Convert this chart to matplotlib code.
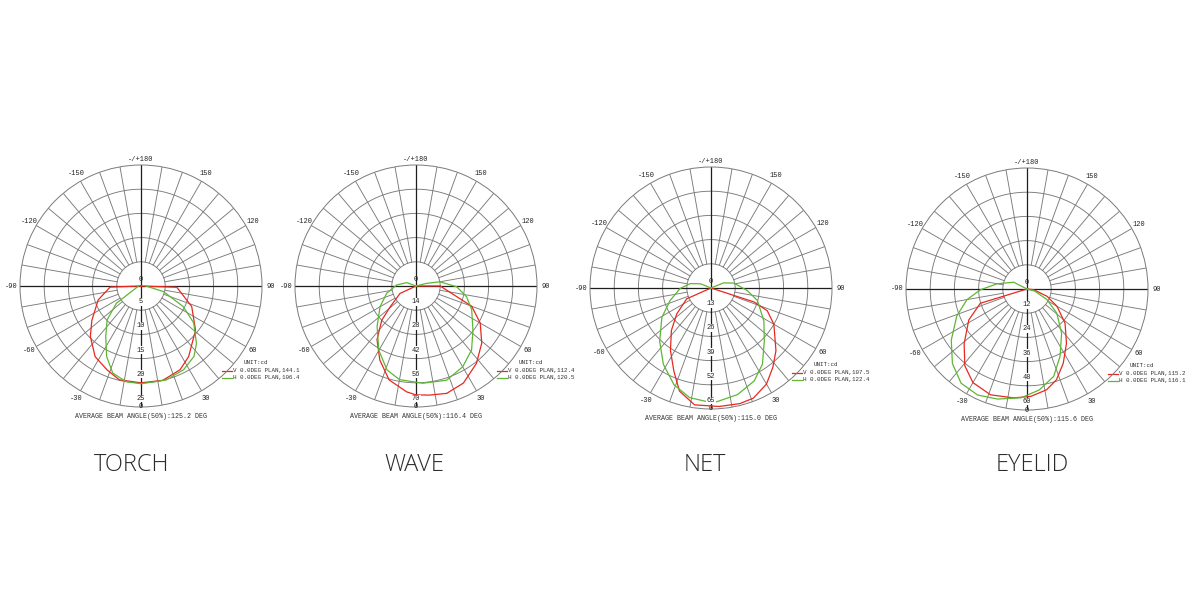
import numpy as np
import matplotlib.pyplot as plt

# ---- values ----
titles = ['TORCH', 'WAVE', 'NET', 'EYELID']
ring_max = [25, 70, 65, 60]          # outer ring value (cd)
v_beam = [144.1, 112.4, 107.5, 115.2]
h_beam = [106.4, 120.5, 122.4, 116.1]
avg_beam = [125.2, 116.4, 115.0, 115.6]

# V 0.0DEG plane (red) and H 0.0DEG plane (green), angle in deg (0 = straight down)
torch_v_ang = [-90, -88, -72, -55, -45, -33, -22, -13, 0, 13, 25, 34, 51, 68, 88, 90]
torch_v_val = [0, 6.4, 9.3, 12.4, 14.8, 17.4, 18.7, 19.9, 20.0, 20.0, 19.1, 17.6, 14.5, 11.3, 7.4, 0]
torch_h_ang = [-90, -55, -45, -35, -26, -18, -9, 0, 15, 27, 37, 44, 55, 64, 76, 90]
torch_h_val = [0.5, 6.2, 9.9, 12.7, 16.2, 18.9, 20.0, 20.2, 20.1, 19.4, 18.2, 16.5, 13.3, 9.7, 4.8, 1.0]

wave_v_ang = [-65, -65, -51, -45, -36, -26, -16, -5, 0, 7, 16, 26, 38, 49, 60, 70, 90, 90]
wave_v_val = [0, 10.2, 19.3, 28, 38.4, 47.7, 56.5, 61.5, 63, 63.6, 64.6, 62.5, 56.8, 50.4, 42.9, 34.3, 14, 0]
wave_h_ang = [-120, -110, -93, -76, -60, -44, -30, -19, -10, 4, 18, 30, 41, 52, 67, 78, 89, 100, 104, 110]
wave_h_val = [0, 5.7, 11.2, 17.5, 24, 32.4, 43, 51.4, 55, 56.4, 57.3, 54, 49, 41.8, 35, 29.9, 23.5, 14, 6.3, 0]

net_v_ang = [-66, -66, -53, -43, -33, -24, -17, -8, 4, 14, 21, 30, 38, 46, 60, 68, 72, 72]
net_v_val = [0, 14.3, 23, 31.2, 40, 49, 57.9, 63.4, 63.8, 64.0, 63.4, 59.6, 54, 48.5, 39, 32.6, 24.3, 0]
net_h_ang = [-120, -112, -102, -89, -73, -59, -44, -32, -21, -11, 1, 14, 25, 34, 45, 58, 75, 86, 102, 112, 120]
net_h_val = [0, 6, 11.4, 16.6, 23, 30.8, 39.7, 48.3, 55.6, 60, 61.8, 59, 55, 49.4, 40.5, 33.5, 25.8, 19.5, 12.6, 7.4, 0]

eyelid_v_ang = [-73, -73, -62, -49, -39, -30, -19, -7, 2, 11, 18, 26, 36, 48, 60, 70, 84, 90]
eyelid_v_val = [0, 24.2, 32.7, 41.3, 49, 53.6, 55.5, 54.4, 53.3, 50.9, 47.3, 41, 33.3, 25.4, 17.2, 10.6, 3.3, 0]
eyelid_h_ang = [-125, -117, -100, -89, -80, -69, -56, -45, -35, -25, -15, -3, 7, 17, 26, 38, 51, 62, 75, 80]
eyelid_h_val = [0, 7.4, 15, 23.1, 30.2, 37.3, 45.3, 52.3, 57, 58, 56.5, 54, 50.4, 45.3, 37.3, 27.9, 19, 11.2, 4, 0]

angle_ticks = [0, 30, 60, 90, 120, 150, 180, -150, -120, -90, -60, -30]
angle_labels = ['0', '30', '60', '90', '120', '150', '-/+180', '-150', '-120', '-90', '-60', '-30']

# ---- layout (pixels in a 1200x600 canvas) ----
W, H = 1200, 600
R = 121
centers = [(141, 286), (416, 286), (711, 288), (1027, 289)]
title_x = [132, 414, 705, 1032]

RED = '#e8281f'
GREEN = '#5db733'
GRID = '#7a7a7a'
MONO = 'Liberation Mono'


def draw_panel(fig, cx, cy, rmax, curves, vb, hb, avg):
    ax = fig.add_axes([(cx - R) / W, (H - cy - R) / H, 2 * R / W, 2 * R / H],
                      projection='polar')
    ax.set_theta_zero_location('S')
    ax.set_theta_direction(1)
    ax.set_ylim(0, rmax)
    ax.set_xticks([])
    ax.set_yticks([])
    ax.grid(False)
    ax.spines['polar'].set_color(GRID)
    ax.spines['polar'].set_linewidth(0.7)

    step = rmax / 5
    th = np.linspace(0, 2 * np.pi, 361)
    for k in range(1, 5):
        ax.plot(th, np.full_like(th, k * step), color=GRID, lw=0.65)
    for a in range(0, 360, 10):
        t = np.radians(a)
        if a % 90 == 0:
            ax.plot([t, t], [0, rmax], color='#1e1e1e', lw=0.9)
        else:
            ax.plot([t, t], [step, rmax], color=GRID, lw=0.65)

    # intensity curves
    (va_, vv_), (ha_, hv_) = curves
    ax.plot(np.radians(va_), vv_, color=RED, lw=0.9, zorder=5)
    ax.plot(np.radians(ha_), hv_, color=GREEN, lw=0.9, zorder=5)

    # ring values along the 0 deg axis
    for k in range(6):
        val = int(round(k * step))
        if k == 0:
            ax.text(np.pi, 0.25 * step, '0', ha='center', va='center',
                    fontsize=5, family=MONO, color='#222', zorder=6)
        else:
            ax.text(0, k * step - 0.35 * step, str(val), ha='center', va='center',
                    fontsize=5, family=MONO, color='#222', zorder=6,
                    bbox=dict(facecolor='white', edgecolor='none', pad=0.3))

    # angle labels
    for a, lab in zip(angle_ticks, angle_labels):
        rr = 1.07
        if a == 0:
            rr = 1.0
        elif a == 180:
            rr = 1.045
        ax.text(np.radians(a), rmax * rr, lab, ha='center', va='center',
                fontsize=5, family=MONO, color='#222', clip_on=False)

    # legend
    ax.text(0.925, 0.182, 'UNIT:cd', transform=ax.transAxes, fontsize=4.2,
            family=MONO, color='#333', va='center', ha='left')
    for y, col, tag, b in [(0.149, RED, 'V', vb), (0.12, GREEN, 'H', hb)]:
        ax.plot([0.835, 0.876], [y, y], transform=ax.transAxes, color=col,
                lw=0.9, clip_on=False)
        ax.text(0.882, y, '%s 0.0DEG PLAN,%.1f' % (tag, b), transform=ax.transAxes,
                fontsize=4.2, family=MONO, color='#333', va='center', ha='left')

    ax.text(0.5, -0.038, 'AVERAGE BEAM ANGLE(50%%):%.1f DEG' % avg,
            transform=ax.transAxes, ha='center', va='center', fontsize=4.8,
            family=MONO, color='#333')
    return ax


fig = plt.figure(figsize=(W / 100, H / 100), dpi=100)
fig.patch.set_facecolor('white')

all_curves = [
    ((torch_v_ang, torch_v_val), (torch_h_ang, torch_h_val)),
    ((wave_v_ang, wave_v_val), (wave_h_ang, wave_h_val)),
    ((net_v_ang, net_v_val), (net_h_ang, net_h_val)),
    ((eyelid_v_ang, eyelid_v_val), (eyelid_h_ang, eyelid_h_val)),
]

for i in range(4):
    cx, cy = centers[i]
    draw_panel(fig, cx, cy, ring_max[i], all_curves[i], v_beam[i], h_beam[i], avg_beam[i])
    fig.text(title_x[i] / W, 1 - 465 / H, titles[i], ha='center', va='center',
             fontsize=17, family='Open Sans', fontweight='light', color='#2b2b2b')

fig.savefig('out.png', dpi=100, facecolor='white')
